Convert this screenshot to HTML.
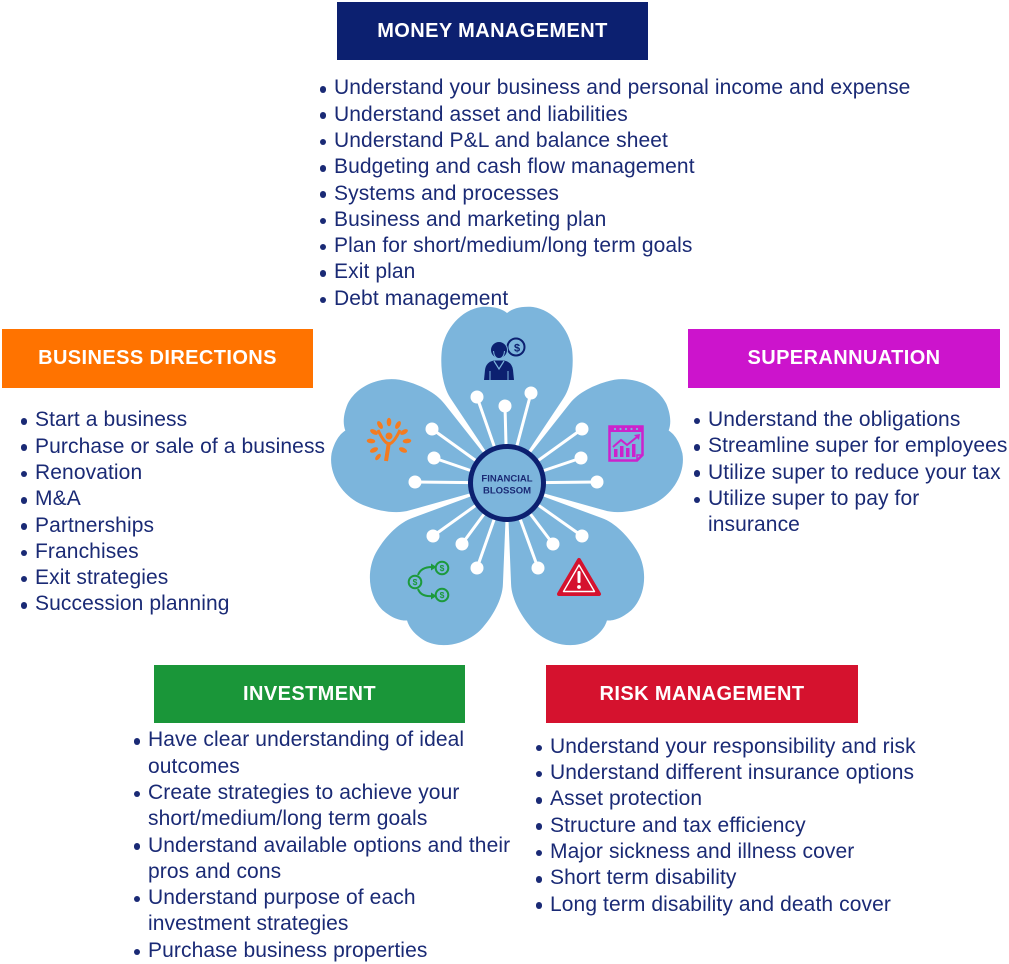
<!DOCTYPE html>
<html><head><meta charset="utf-8">
<style>
html,body{margin:0;padding:0;background:#fff;}
body{width:1009px;height:962px;position:relative;overflow:hidden;font-family:"Liberation Sans",Arial,sans-serif;}
.hd{position:absolute;display:flex;align-items:center;justify-content:center;color:#fff;font-weight:bold;font-size:20px;letter-spacing:0.4px;white-space:nowrap;}
.list{position:absolute;color:#1a2a75;font-size:21px;line-height:26.3px;letter-spacing:0.1px;white-space:nowrap;}
.li,.ct{position:relative;height:26.3px;}
.li::before{content:"";position:absolute;left:-14.5px;top:10.8px;width:6.5px;height:6.5px;border-radius:50%;background:#1a2a75;}
svg{position:absolute;left:0;top:0;}
</style></head>
<body>
<svg width="1009" height="962" viewBox="0 0 1009 962">
  <g transform="translate(507,483)" fill="#7cb5dc">
    <path d="M0,0 L-56,-84 C-65,-97 -67,-118 -65,-134 C-62,-154 -46,-173 -26,-176 C-13,-177 -5,-174 0,-170 C5,-174 13,-177 26,-176 C46,-173 62,-154 65,-134 C67,-118 65,-97 56,-84 Z"/>
    <path transform="rotate(72)" d="M0,0 L-56,-84 C-65,-97 -67,-118 -65,-134 C-62,-154 -46,-173 -26,-176 C-13,-177 -5,-174 0,-170 C5,-174 13,-177 26,-176 C46,-173 62,-154 65,-134 C67,-118 65,-97 56,-84 Z"/>
    <path transform="rotate(144)" d="M0,0 L-56,-84 C-65,-97 -67,-118 -65,-134 C-62,-154 -46,-173 -26,-176 C-13,-177 -5,-174 0,-170 C5,-174 13,-177 26,-176 C46,-173 62,-154 65,-134 C67,-118 65,-97 56,-84 Z"/>
    <path transform="rotate(216)" d="M0,0 L-56,-84 C-65,-97 -67,-118 -65,-134 C-62,-154 -46,-173 -26,-176 C-13,-177 -5,-174 0,-170 C5,-174 13,-177 26,-176 C46,-173 62,-154 65,-134 C67,-118 65,-97 56,-84 Z"/>
    <path transform="rotate(288)" d="M0,0 L-56,-84 C-65,-97 -67,-118 -65,-134 C-62,-154 -46,-173 -26,-176 C-13,-177 -5,-174 0,-170 C5,-174 13,-177 26,-176 C46,-173 62,-154 65,-134 C67,-118 65,-97 56,-84 Z"/>
  </g>
  <!-- connector lines -->
  <g stroke="#fff" stroke-width="3" stroke-linecap="round">
    <line x1="507" y1="483" x2="477" y2="397"/>
    <line x1="507" y1="483" x2="505" y2="406"/>
    <line x1="507" y1="483" x2="531" y2="393"/>
    <line x1="507" y1="483" x2="432" y2="429"/>
    <line x1="507" y1="483" x2="434" y2="458"/>
    <line x1="507" y1="483" x2="415" y2="482"/>
    <line x1="507" y1="483" x2="582" y2="429"/>
    <line x1="507" y1="483" x2="581" y2="458"/>
    <line x1="507" y1="483" x2="597" y2="482"/>
    <line x1="507" y1="483" x2="433" y2="536"/>
    <line x1="507" y1="483" x2="462" y2="544"/>
    <line x1="507" y1="483" x2="477" y2="568"/>
    <line x1="507" y1="483" x2="582" y2="536"/>
    <line x1="507" y1="483" x2="553" y2="544"/>
    <line x1="507" y1="483" x2="538" y2="568"/>
  </g>
  <g fill="#fff">
    <circle cx="477" cy="397" r="6.5"/>
    <circle cx="505" cy="406" r="6.5"/>
    <circle cx="531" cy="393" r="6.5"/>
    <circle cx="432" cy="429" r="6.5"/>
    <circle cx="434" cy="458" r="6.5"/>
    <circle cx="415" cy="482" r="6.5"/>
    <circle cx="582" cy="429" r="6.5"/>
    <circle cx="581" cy="458" r="6.5"/>
    <circle cx="597" cy="482" r="6.5"/>
    <circle cx="433" cy="536" r="6.5"/>
    <circle cx="462" cy="544" r="6.5"/>
    <circle cx="477" cy="568" r="6.5"/>
    <circle cx="582" cy="536" r="6.5"/>
    <circle cx="553" cy="544" r="6.5"/>
    <circle cx="538" cy="568" r="6.5"/>
  </g>
  <!-- center -->
  <circle cx="507" cy="483" r="36.5" fill="#7cb5dc" stroke="#0c2070" stroke-width="5"/>
  <text x="507" y="481.5" text-anchor="middle" font-family="Liberation Sans, Arial, sans-serif" font-size="9.5" font-weight="bold" fill="#1a2a75">FINANCIAL</text>
  <text x="507" y="493.3" text-anchor="middle" font-family="Liberation Sans, Arial, sans-serif" font-size="9.5" font-weight="bold" fill="#1a2a75">BLOSSOM</text>

  <!-- top icon: person with coin -->
  <circle cx="516" cy="347" r="8.5" fill="#7cb5dc" stroke="#0c2070" stroke-width="2"/>
  <text x="517" y="351.5" text-anchor="middle" font-family="Liberation Sans, Arial, sans-serif" font-size="11" font-weight="bold" fill="#0c2070">$</text>
  <circle cx="499" cy="350" r="8.5" fill="#0c2070" stroke="#7cb5dc" stroke-width="1"/>
  <path d="M493.5,351 Q494,358 499,359 Q504,358 504.5,351" fill="none" stroke="#7cb5dc" stroke-width="1"/>
  <path d="M484,380 L485,370 Q486,362 494,360.5 L504,360.5 Q512,362 513,370 L514,380 Z" fill="#0c2070"/>
  <path d="M494,361 L499,369 L504,361" fill="none" stroke="#7cb5dc" stroke-width="1.2"/>
  <path d="M490,380 L490,371 M508,380 L508,371" stroke="#7cb5dc" stroke-width="1"/>

  <!-- left icon: orange tree person -->
  <g fill="#f47b20">
    <ellipse cx="380" cy="425" rx="2.3" ry="4.3" transform="rotate(-30 380 425)"/>
    <ellipse cx="389" cy="422" rx="2.3" ry="4.3"/>
    <ellipse cx="398" cy="425" rx="2.3" ry="4.3" transform="rotate(30 398 425)"/>
    <ellipse cx="374" cy="432" rx="2.3" ry="4.3" transform="rotate(-60 374 432)"/>
    <ellipse cx="404" cy="432" rx="2.3" ry="4.3" transform="rotate(60 404 432)"/>
    <ellipse cx="371" cy="441" rx="2.3" ry="4.3" transform="rotate(-85 371 441)"/>
    <ellipse cx="407" cy="441" rx="2.3" ry="4.3" transform="rotate(85 407 441)"/>
    <ellipse cx="374" cy="450" rx="2.3" ry="4.3" transform="rotate(-115 374 450)"/>
    <ellipse cx="403" cy="450" rx="2.3" ry="4.3" transform="rotate(115 403 450)"/>
    <ellipse cx="378" cy="457" rx="2" ry="3.8" transform="rotate(-140 378 457)"/>
    <circle cx="389" cy="436" r="3.5"/>
  </g>
  <path d="M378,430 Q384,443 389,444 Q394,443 400,430" fill="none" stroke="#f47b20" stroke-width="3"/>
  <path d="M389,442 L386,461" fill="none" stroke="#f47b20" stroke-width="4"/>

  <!-- right icon: calendar chart -->
  <g stroke="#cc22cc" fill="none">
    <path d="M609.5,426.5 L642.5,426.5 L642.5,455 L637,460.5 L609.5,460.5 Z" stroke-width="2.5"/>
    <path d="M642.5,455 L637,455 L637,460.5" stroke-width="1.5"/>
  </g>
  <rect x="609" y="426" width="34" height="6" fill="#cc22cc"/>
  <g fill="#7cb5dc">
    <circle cx="615" cy="429" r="1.1"/><circle cx="620.5" cy="429" r="1.1"/><circle cx="626" cy="429" r="1.1"/><circle cx="631.5" cy="429" r="1.1"/><circle cx="637" cy="429" r="1.1"/>
  </g>
  <g fill="#cc22cc">
    <rect x="614" y="449" width="3.5" height="8"/>
    <rect x="620" y="446" width="3.5" height="11"/>
    <rect x="626" y="448" width="3.5" height="9"/>
    <rect x="632" y="444" width="3.5" height="13"/>
    <polygon points="634,435 640,434 639,440"/>
  </g>
  <polyline points="613,447 621,440 627,445 637,437" fill="none" stroke="#cc22cc" stroke-width="2"/>

  <!-- bottom-left icon: green coins -->
  <g fill="none" stroke="#1c9a3c" stroke-width="2">
    <circle cx="415" cy="582" r="6.3"/>
    <circle cx="442" cy="568" r="6.3"/>
    <circle cx="442" cy="595" r="6.3"/>
    <path d="M418,575 Q421,567 432,567"/>
    <path d="M418,589 Q421,597 432,596"/>
  </g>
  <g fill="#1c9a3c">
    <polygon points="431,563.5 436.5,567 431,570.5"/>
    <polygon points="431,592.5 436.5,596 431,599.5"/>
  </g>
  <g font-family="Liberation Sans, Arial, sans-serif" font-size="8.5" font-weight="bold" fill="#1c9a3c" text-anchor="middle">
    <text x="415" y="585">$</text><text x="442" y="571">$</text><text x="442" y="598">$</text>
  </g>

  <!-- bottom-right icon: warning -->
  <path d="M579,560 L599,594 L559,594 Z" fill="#d5122e" stroke="#d5122e" stroke-width="4" stroke-linejoin="round"/>
  <path d="M579,565 L594.5,591.5 L563.5,591.5 Z" fill="none" stroke="#fff" stroke-width="1.4" stroke-linejoin="round"/>
  <rect x="577.5" y="571" width="3" height="12" rx="1.3" fill="#fff"/>
  <circle cx="579" cy="587" r="1.9" fill="#fff"/>
</svg>

<div class="hd" style="left:337px;top:2px;width:311px;height:58px;background:#0c2070;">MONEY MANAGEMENT</div>
<div class="hd" style="left:2px;top:329px;width:311px;height:59px;background:#ff7300;">BUSINESS DIRECTIONS</div>
<div class="hd" style="left:688px;top:329px;width:312px;height:59px;background:#cc14cc;">SUPERANNUATION</div>
<div class="hd" style="left:154px;top:665px;width:311px;height:58px;background:#1a9639;">INVESTMENT</div>
<div class="hd" style="left:546px;top:665px;width:312px;height:58px;background:#d5122e;">RISK MANAGEMENT</div>

<div class="list" style="left:334px;top:75.4px;">
  <div class="li">Understand your business and personal income and expense</div>
  <div class="li">Understand asset and liabilities</div>
  <div class="li">Understand P&amp;L and balance sheet</div>
  <div class="li">Budgeting and cash flow management</div>
  <div class="li">Systems and processes</div>
  <div class="li">Business and marketing plan</div>
  <div class="li">Plan for short/medium/long term goals</div>
  <div class="li">Exit plan</div>
  <div class="li">Debt management</div>
</div>

<div class="list" style="left:35px;top:407.4px;">
  <div class="li">Start a business</div>
  <div class="li">Purchase or sale of a business</div>
  <div class="li">Renovation</div>
  <div class="li">M&amp;A</div>
  <div class="li">Partnerships</div>
  <div class="li">Franchises</div>
  <div class="li">Exit strategies</div>
  <div class="li">Succession planning</div>
</div>

<div class="list" style="left:708px;top:407px;">
  <div class="li">Understand the obligations</div>
  <div class="li">Streamline super for employees</div>
  <div class="li">Utilize super to reduce your tax</div>
  <div class="li">Utilize super to pay for</div>
  <div class="ct">insurance</div>
</div>

<div class="list" style="left:148px;top:727.4px;">
  <div class="li">Have clear understanding of ideal</div>
  <div class="ct">outcomes</div>
  <div class="li">Create strategies to achieve your</div>
  <div class="ct">short/medium/long term goals</div>
  <div class="li">Understand available options and their</div>
  <div class="ct">pros and cons</div>
  <div class="li">Understand purpose of each</div>
  <div class="ct">investment strategies</div>
  <div class="li">Purchase business properties</div>
</div>

<div class="list" style="left:550px;top:733.8px;">
  <div class="li">Understand your responsibility and risk</div>
  <div class="li">Understand different insurance options</div>
  <div class="li">Asset protection</div>
  <div class="li">Structure and tax efficiency</div>
  <div class="li">Major sickness and illness cover</div>
  <div class="li">Short term disability</div>
  <div class="li">Long term disability and death cover</div>
</div>
</body></html>
